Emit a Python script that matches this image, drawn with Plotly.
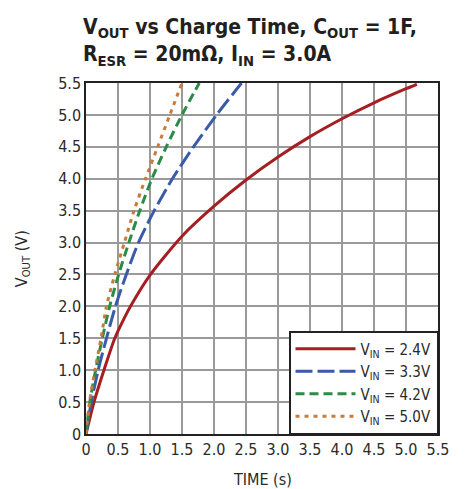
import plotly.graph_objects as go

# Data
t_24 = [0, 0.125, 0.28, 0.45, 0.6, 0.7, 1.0, 1.5, 2.0, 2.5, 3.0, 3.5, 4.0, 4.5, 5.0, 5.17]
v_24 = [0, 0.5, 1.0, 1.5, 1.82, 2.01, 2.49, 3.10, 3.57, 3.98, 4.34, 4.66, 4.94, 5.19, 5.41, 5.48]

t_33 = [0, 0.083, 0.19, 0.32, 0.46, 0.63, 0.82, 1.066, 1.35, 1.68, 2.04, 2.43]
v_33 = [0, 0.5, 1.0, 1.5, 2.0, 2.5, 3.0, 3.5, 4.0, 4.5, 5.0, 5.5]

t_42 = [0, 0.06, 0.15, 0.255, 0.37, 0.51, 0.67, 0.84, 1.03, 1.255, 1.5, 1.77]
v_42 = [0, 0.5, 1.0, 1.5, 2.0, 2.5, 3.0, 3.5, 4.0, 4.5, 5.0, 5.5]

t_50 = [0, 0.055, 0.14, 0.235, 0.32, 0.45, 0.6, 0.75, 0.93, 1.12, 1.31, 1.5]
v_50 = [0, 0.5, 1.0, 1.5, 2.0, 2.5, 3.0, 3.5, 4.0, 4.5, 5.0, 5.5]

series_names = ["V<sub>IN</sub> = 2.4V", "V<sub>IN</sub> = 3.3V", "V<sub>IN</sub> = 4.2V", "V<sub>IN</sub> = 5.0V"]
tick_vals = [0, 0.5, 1.0, 1.5, 2.0, 2.5, 3.0, 3.5, 4.0, 4.5, 5.0, 5.5]
tick_text = ["0", "0.5", "1.0", "1.5", "2.0", "2.5", "3.0", "3.5", "4.0", "4.5", "5.0", "5.5"]

FONT = "DejaVu Sans Condensed, Liberation Sans, sans-serif"
TXT = "#2a2a2a"

styles = [
    dict(color="#A51E23", width=3, dash="solid"),
    dict(color="#3A5BAA", width=3, dash="17px,5px"),
    dict(color="#2A8C46", width=3, dash="9px,5px"),
    dict(color="#C67B3B", width=3, dash="4px,5px"),
]

fig = go.Figure()
for (t, v), name, st in zip([(t_24, v_24), (t_33, v_33), (t_42, v_42), (t_50, v_50)], series_names, styles):
    fig.add_trace(go.Scatter(x=t, y=v, mode="lines", name=name,
                             line=dict(shape="spline", smoothing=0.7, **st)))

axis_common = dict(
    range=[0, 5.5], tickvals=tick_vals, ticktext=tick_text,
    showgrid=True, gridcolor="#9a9a9a", gridwidth=1.5,
    showline=True, linecolor="#222222", linewidth=1.5, mirror=True,
    zeroline=False, ticks="", automargin=False,
    tickfont=dict(family=FONT, size=16, color=TXT),
)

fig.update_layout(
    width=465, height=489,
    margin=dict(l=86, r=27, t=83, b=55),
    paper_bgcolor="white", plot_bgcolor="white",
    xaxis=dict(**axis_common),
    yaxis=dict(**axis_common),
    legend=dict(
        x=1, y=0, xanchor="right", yanchor="bottom",
        bgcolor="white", bordercolor="#222222", borderwidth=1.5,
        font=dict(family=FONT, size=15, color=TXT),
        itemwidth=60, tracegroupgap=0,
    ),
    showlegend=True,
    annotations=[
        dict(text="<b>V<sub>OUT</sub> vs Charge Time, C<sub>OUT</sub> = 1F,<br>R<sub>ESR</sub> = 20mΩ, I<sub>IN</sub> = 3.0A</b>",
             xref="paper", yref="paper", x=-0.014, y=1.199, xanchor="left", yanchor="top",
             align="left", showarrow=False,
             font=dict(family=FONT, size=21, color="#231f20")),
        dict(text="TIME (s)", xref="paper", yref="paper", x=0.5, y=-0.097,
             xanchor="center", yanchor="top", showarrow=False,
             font=dict(family=FONT, size=16, color=TXT)),
        dict(text="V<sub>OUT</sub> (V)", xref="paper", yref="paper", x=-0.18, y=0.5,
             xanchor="center", yanchor="middle", textangle=-90, showarrow=False,
             font=dict(family=FONT, size=16, color=TXT)),
    ],
)

fig.write_html("out.html", config={"displayModeBar": False},
               post_script="document.body.style.margin='0';document.body.style.overflow='hidden';")
